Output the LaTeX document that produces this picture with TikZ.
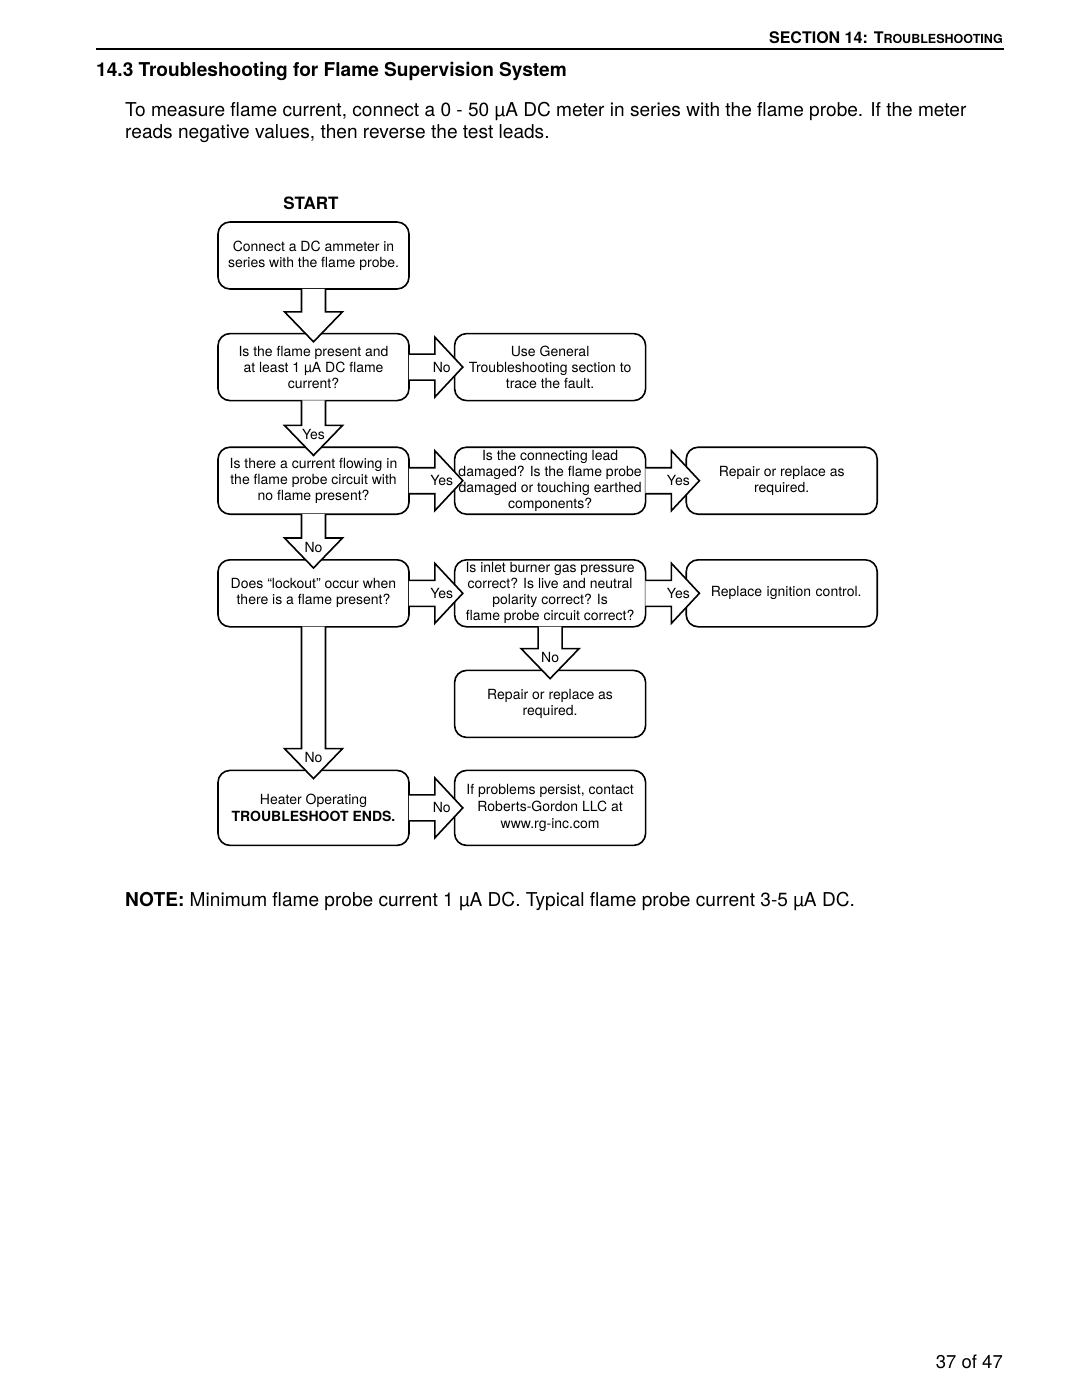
\documentclass[tikz,border=0pt]{standalone}
\usepackage{fontspec}
\setmainfont{TeX Gyre Heros}
\usetikzlibrary{positioning,calc}
\newcommand{\boxfont}{\fontsize{14}{16}\selectfont}
\newcommand{\bodyfont}{\fontsize{19.1}{22}\selectfont}
\tikzset{
  stepbox/.style={rectangle,rounded corners=12pt,draw=black,line width=1.6pt,
                  fill=white,minimum width=191pt,minimum height=67pt,inner sep=2pt,
                  align=center,font=\boxfont},
  endbox/.style={stepbox,minimum height=75pt},
  blockarrow/.style={draw=black,line width=1.6pt,fill=white,line join=miter},
  answer/.style={inner sep=0pt,font=\boxfont},
  pagetext/.style={inner sep=0pt,font=\bodyfont},
}
\newcommand{\arrowdown}[3]{%
  \draw[blockarrow] let \p1=(#1.south), \p2=(#2.north) in
    (\x1-12pt,\y1+1pt) -- (\x1-12pt,\y2+21pt) -- (\x1-29pt,\y2+21pt)
    -- (\x1,\y2-9pt) -- (\x1+29pt,\y2+21pt) -- (\x1+12pt,\y2+21pt)
    -- (\x1+12pt,\y1+1pt);
  \path let \p1=(#1.south), \p2=(#2.north) in
    node[answer] (#1-#2) at (\x1,\y2+12pt) {#3};
}
\newcommand{\arrowright}[3]{%
  \draw[blockarrow] let \p1=(#1.east), \p2=(#2.west) in
    (\x1-1pt,\y2+13pt) -- (\x1+25pt,\y2+13pt) -- (\x1+25pt,\y2+30pt)
    -- (\x1+53pt,\y2) -- (\x1+25pt,\y2-30pt) -- (\x1+25pt,\y2-13pt)
    -- (\x1-1pt,\y2-13pt);
  \path let \p1=(#1.east), \p2=(#2.west) in
    node[answer] (#1-#2) at (\x1+32pt,\y2) {#3};
}

\begin{document}
\begin{tikzpicture}[x=1pt,y=-1pt]
  \fill[white] (0,0) rectangle (1080,1397);
  \useasboundingbox (0,0) rectangle (1080,1397);
  \node[inner sep=0pt,anchor=base east,font=\fontsize{16}{18}\selectfont\bfseries] (section) at (1003,44)
    {SECTION 14: T{\fontsize{12.5}{14}\selectfont ROUBLESHOOTING}};
  \draw[line width=2pt] (96,49) -- (1004,49);
  \node[pagetext,anchor=base west,font=\bodyfont\bfseries] (title) at (96,77)
    {14.3 Troubleshooting for Flame Supervision System};
  \node[pagetext,anchor=base west,align=left] (intro) at (125,138)
    {To measure flame current, connect a 0 - 50 µA DC meter in series with the flame probe. If the meter\\
     reads negative values, then reverse the test leads.};
  \node[pagetext,font=\fontsize{17}{20}\selectfont\bfseries] (start) at (311,203) {START};

  \node[stepbox] (conn) at (313.5,255.5) {Connect a DC ammeter in\\series with the flame probe.};
  \node[stepbox,below=43pt of conn] (flame) {Is the flame present and\\at least 1 µA DC flame\\current?};
  \node[stepbox,right=44pt of flame] (general) {Use General\\Troubleshooting section to\\trace the fault.};
  \node[stepbox,below=45pt of flame] (stray) {Is there a current flowing in\\the flame probe circuit with\\no flame present?};
  \node[stepbox,right=44pt of stray] (lead) {Is the connecting lead\\damaged? Is the flame probe\\damaged or touching earthed\\components?};
  \node[stepbox,right=39pt of lead] (repair) {Repair or replace as\\required.};
  \node[stepbox,below=44pt of stray] (lockout) {Does “lockout” occur when\\there is a flame present?};
  \node[stepbox,right=44pt of lockout] (inlet) {Is inlet burner gas pressure\\correct? Is live and neutral\\polarity correct? Is\\flame probe circuit correct?};
  \node[stepbox,right=39pt of inlet,text width=170pt,xshift=0pt] (ignition) {\hspace*{9pt}Replace ignition control.};
  \node[stepbox,below=42pt of inlet] (fixit) {Repair or replace as\\required.};
  \node[endbox,below=142pt of lockout] (heater) {Heater Operating\\[1pt]\textbf{TROUBLESHOOT ENDS.}};
  \node[endbox,right=44pt of heater] (contact) {If problems persist, contact\\[1pt]Roberts-Gordon LLC at\\[1pt]www.rg-inc.com};

  \arrowdown{conn}{flame}{}
  \arrowright{flame}{general}{No}
  \arrowdown{flame}{stray}{Yes}
  \arrowright{stray}{lead}{Yes}
  \arrowright{lead}{repair}{Yes}
  \arrowdown{stray}{lockout}{No}
  \arrowright{lockout}{inlet}{Yes}
  \arrowright{inlet}{ignition}{Yes}
  \arrowdown{inlet}{fixit}{No}
  \arrowdown{lockout}{heater}{No}
  \arrowright{heater}{contact}{No}

  \node[pagetext,anchor=base west] (note) at (125,906)
    {\textbf{NOTE:} Minimum flame probe current 1 µA DC. Typical flame probe current 3-5 µA DC.};
  \node[pagetext,anchor=base east,font=\fontsize{18.5}{22}\selectfont] (page) at (1003,1368) {37 of 47};
\end{tikzpicture}
\end{document}
